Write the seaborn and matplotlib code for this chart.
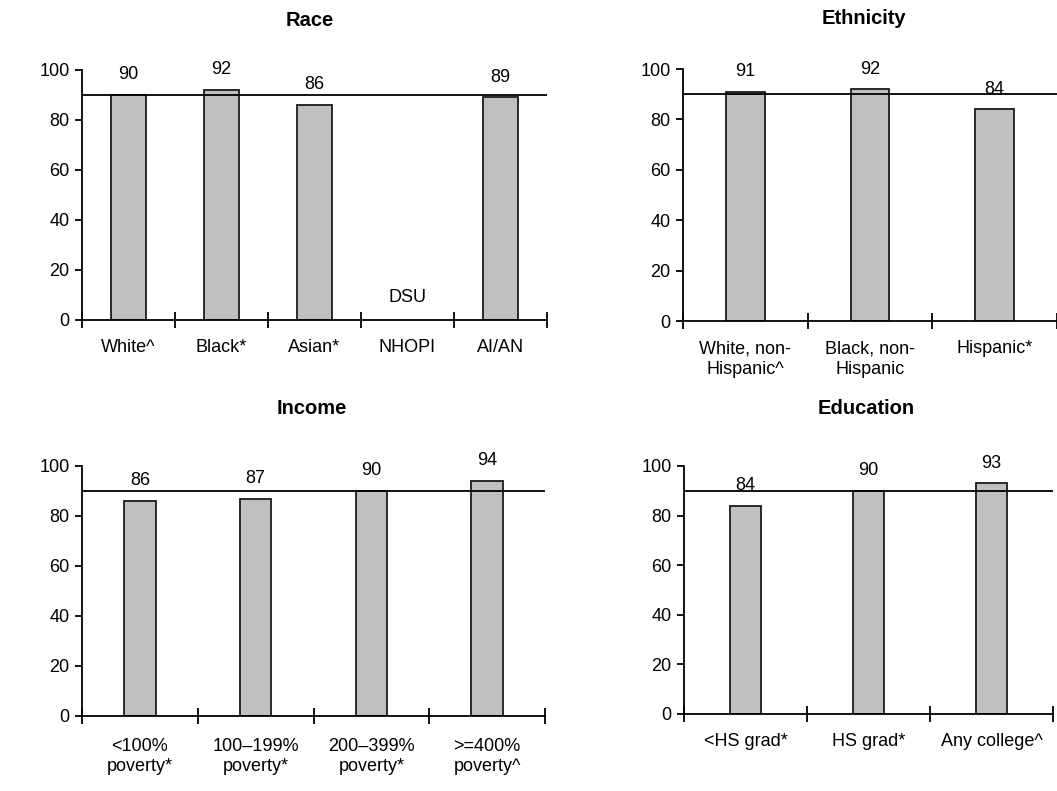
import numpy as np
import pandas as pd
import matplotlib
matplotlib.use("Agg")
import matplotlib.pyplot as plt
import seaborn as sns

# ---- data ----
race_cats = ["White^", "Black*", "Asian*", "NHOPI", "AI/AN"]
race_vals = [90, 92, 86, np.nan, 89]

eth_cats = ["White, non-\nHispanic^", "Black, non-\nHispanic", "Hispanic*"]
eth_vals = [91, 92, 84]

inc_cats = ["<100%\npoverty*", "100\u2013199%\npoverty*", "200\u2013399%\npoverty*", ">=400%\npoverty^"]
inc_vals = [86, 87, 90, 94]

edu_cats = ["<HS grad*", "HS grad*", "Any college^"]
edu_vals = [84, 90, 93]

target = 90
yticks = [0, 20, 40, 60, 80, 100]
missing_label = "DSU"

sns.set_theme(style="ticks")
plt.rcParams["font.family"] = ["Liberation Sans", "DejaVu Sans"]
plt.rcParams["text.color"] = "black"
plt.rcParams["xtick.color"] = "black"
plt.rcParams["ytick.color"] = "black"
plt.rcParams["xtick.labelcolor"] = "black"
plt.rcParams["ytick.labelcolor"] = "black"

W, H = 1057, 791
fig = plt.figure(figsize=(W / 100, H / 100), dpi=100)


def px_axes(x0, x1, y_top, y_bot):
    return fig.add_axes([x0 / W, (H - y_bot) / H, (x1 - x0) / W, (y_bot - y_top) / H])


panels = [
    ("Race", race_cats, race_vals, (82, 547, 70, 320), 0.38, (310, 20), 14),
    ("Ethnicity", eth_cats, eth_vals, (683, 1057, 69, 321), 0.31, (864, 18), 14),
    ("Income", inc_cats, inc_vals, (82, 545, 466, 716), 0.27, (312, 408), 15.5),
    ("Education", edu_cats, edu_vals, (684, 1053, 466, 714), 0.26, (866, 409), 14),
]

FS = 13
for title, cats, vals, box, bw, tpos, lpad in panels:
    ax = px_axes(*box)
    df = pd.DataFrame({"cat": cats, "val": vals})
    sns.barplot(data=df, x="cat", y="val", order=cats, ax=ax, color="#c0c0c0",
                saturation=1, edgecolor="#1a1a1a", linewidth=1.3, width=bw, errorbar=None)
    n = len(cats)
    ax.set_xlim(-0.5, n - 0.5)
    ax.set_ylim(0, 100)
    ax.axhline(target, color="black", lw=1.3, zorder=3)
    ax.set_xlabel("")
    ax.set_ylabel("")
    ax.set_yticks(yticks)
    ax.set_yticklabels([str(t) for t in yticks], fontsize=FS)
    ax.tick_params(axis="y", direction="out", length=5, width=1.3, color="black", pad=4)
    ax.set_xticks(np.arange(n + 1) - 0.5)
    ax.set_xticklabels([])
    ax.tick_params(axis="x", which="major", direction="inout", length=12, width=1.3, color="black")
    ax.set_xticks(np.arange(n), minor=True)
    ax.set_xticklabels(cats, minor=True, fontsize=FS, linespacing=1.25)
    ax.tick_params(axis="x", which="minor", length=0, pad=lpad)
    for spine in ["top", "right"]:
        ax.spines[spine].set_visible(False)
    for spine in ["left", "bottom"]:
        ax.spines[spine].set_color("black")
        ax.spines[spine].set_linewidth(1.3)
    for i, v in enumerate(vals):
        if np.isnan(v):
            ax.annotate(missing_label, (i, 0), xytext=(0, 16), textcoords="offset points",
                        ha="center", va="center", fontsize=FS, clip_on=False)
        else:
            ax.annotate(f"{v:.0f}", (i, v), xytext=(0, 14.5), textcoords="offset points",
                        ha="center", va="center", fontsize=FS, clip_on=False, annotation_clip=False)
    fig.text(tpos[0] / W, 1 - tpos[1] / H, title, ha="center", va="center",
             fontsize=14.5, fontweight="bold")

fig.savefig("out.png", dpi=100)
